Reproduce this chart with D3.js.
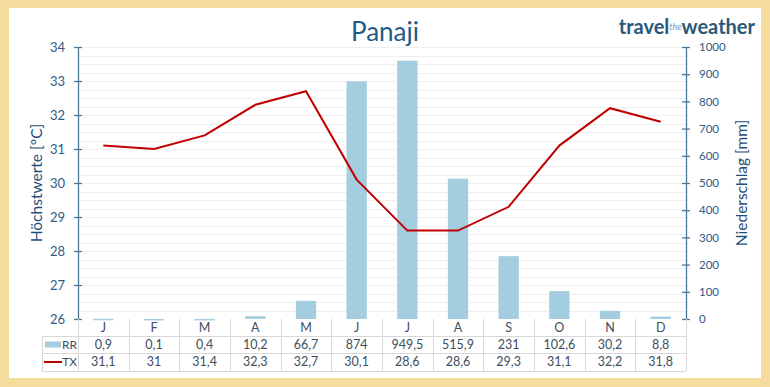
<!DOCTYPE html>
<html>
<head>
<meta charset="utf-8">
<script src="https://cdn.jsdelivr.net/npm/d3@7"></script>
<style>
  html, body { margin: 0; padding: 0; background: #fff; }
  svg { display: block; }
</style>
</head>
<body>
<div id="chart"></div>
<script>
// data
const months = ["J", "F", "M", "A", "M", "J", "J", "A", "S", "O", "N", "D"];
const rainfall = [0.9, 0.1, 0.4, 10.2, 66.7, 874, 949.5, 515.9, 231, 102.6, 30.2, 8.8];
const maxTemp = [31.1, 31, 31.4, 32.3, 32.7, 30.1, 28.6, 28.6, 29.3, 31.1, 32.2, 31.8];
const tempTicks = [26, 27, 28, 29, 30, 31, 32, 33, 34];
const rainTicks = [0, 100, 200, 300, 400, 500, 600, 700, 800, 900, 1000];

const W = 770, H = 387;
const plotL = 78, plotR = 686, plotT = 47, plotB = 319;
const rowH = [17, 17, 18];
const fmt = v => String(v).replace(".", ",");

const axisCol = "#4d7796";
const textCol = "#2e5b86";
const tableCol = "#3e4e5e";
const barCol = "#a5cde0";
const lineCol = "#c00000";

const svg = d3.select("#chart").append("svg")
    .attr("width", W)
    .attr("height", H)
    .style("font-family", "Lato, 'Open Sans', sans-serif");

// beige frame
svg.append("rect").attr("width", W).attr("height", H).attr("fill", "#f4dc9c");
svg.append("rect")
    .attr("x", 9).attr("y", 8)
    .attr("width", W - 18).attr("height", H - 17)
    .attr("fill", "#fff");

// scales
const idx = months.map((m, i) => i);
const x = d3.scaleBand().domain(idx).range([plotL, plotR]).padding(0);
const yT = d3.scaleLinear().domain([26, 34]).range([plotB, plotT]);
const yR = d3.scaleLinear().domain([0, 1000]).range([plotB, plotT]);

// faint gridlines every 0.25 °C
const grid = d3.range(26.25, 34.01, 0.25);
svg.append("g").selectAll("line")
    .data(grid)
    .join("line")
    .attr("x1", plotL).attr("x2", plotR)
    .attr("y1", d => Math.round(yT(d)) + 0.5)
    .attr("y2", d => Math.round(yT(d)) + 0.5)
    .attr("stroke", "#efefef")
    .attr("stroke-width", 1);

// bars
const bw = x.bandwidth() * 0.4;
svg.append("g").selectAll("rect")
    .data(rainfall)
    .join("rect")
    .attr("x", (d, i) => x(i) + (x.bandwidth() - bw) / 2)
    .attr("width", bw)
    .attr("y", d => yR(d))
    .attr("height", d => Math.max(1.5, plotB - yR(d)))
    .attr("fill", barCol);

// temperature line
const line = d3.line()
    .x((d, i) => x(i) + x.bandwidth() / 2)
    .y(d => yT(d));
svg.append("path")
    .datum(maxTemp)
    .attr("d", line)
    .attr("fill", "none")
    .attr("stroke", lineCol)
    .attr("stroke-width", 2)
    .attr("stroke-linejoin", "miter");

// axes
const leftAxis = svg.append("g").attr("transform", `translate(${plotL},0)`)
    .call(d3.axisLeft(yT).tickValues(tempTicks).tickSize(4).tickSizeOuter(0).tickPadding(9));
leftAxis.selectAll(".tick line").attr("x2", 4).attr("x1", -4);
const rightAxis = svg.append("g").attr("transform", `translate(${plotR},0)`)
    .call(d3.axisRight(yR).tickValues(rainTicks).tickFormat(d3.format("d"))
        .tickSize(4).tickSizeOuter(0).tickPadding(9));
rightAxis.selectAll(".tick line").attr("x1", -4).attr("x2", 4);

[leftAxis, rightAxis].forEach(a => {
    a.select(".domain").attr("stroke", axisCol).attr("stroke-width", 1.3);
    a.selectAll(".tick line").attr("stroke", axisCol).attr("stroke-width", 1.3);
    a.selectAll(".tick text").attr("fill", textCol)
        .style("font-family", "Lato, 'Open Sans', sans-serif");
});
leftAxis.selectAll(".tick text").style("font-size", "13px");
rightAxis.selectAll(".tick text").style("font-size", "11.5px");

// axis titles
svg.append("text")
    .attr("transform", `translate(42,${(plotT + plotB) / 2}) rotate(-90)`)
    .attr("text-anchor", "middle")
    .attr("fill", "#1f4e79")
    .style("font-size", "15.5px")
    .text("Höchstwerte [°C]");
svg.append("text")
    .attr("transform", `translate(747,${(plotT + plotB) / 2}) rotate(-90)`)
    .attr("text-anchor", "middle")
    .attr("fill", "#1f4e79")
    .style("font-size", "15.5px")
    .text("Niederschlag [mm]");

// title
svg.append("text")
    .attr("x", 385).attr("y", 41)
    .attr("text-anchor", "middle")
    .attr("fill", "#1f5a8a")
    .style("font-size", "26px")
    .text("Panaji");

// logo
const logo = svg.append("text")
    .attr("x", 755).attr("y", 34)
    .attr("text-anchor", "end")
    .attr("fill", "#2a5878")
    .style("font-weight", "bold")
    .style("font-size", "20px");
logo.append("tspan").text("travel");
logo.append("tspan").attr("dy", -4).style("font-size", "9px").style("font-weight", "normal")
    .style("font-style", "italic").attr("fill", "#7a9ab0").text("the");
logo.append("tspan").attr("dy", 4).text("weather");

// data table
const r0 = plotB, r1 = r0 + rowH[0], r2 = r1 + rowH[1], r3 = r2 + rowH[2];
const legLeft = 42;
const table = svg.append("g").attr("stroke", "#d8d8d8").attr("stroke-width", 1);
[r1, r2, r3].forEach(yy => {
    table.append("line").attr("x1", legLeft).attr("x2", plotR)
        .attr("y1", yy + 0.5).attr("y2", yy + 0.5);
});
const vlines = idx.map(i => x(i)).concat([plotR]);
table.selectAll(".v").data(vlines).join("line")
    .attr("x1", d => Math.round(d) + 0.5).attr("x2", d => Math.round(d) + 0.5)
    .attr("y1", r0).attr("y2", r3);
table.append("line").attr("x1", legLeft + 0.5).attr("x2", legLeft + 0.5)
    .attr("y1", r1).attr("y2", r3);

const cx = i => x(i) + x.bandwidth() / 2;
const rows = [
    { y: (r0 + r1) / 2, vals: months },
    { y: (r1 + r2) / 2, vals: rainfall.map(fmt) },
    { y: (r2 + r3) / 2, vals: maxTemp.map(fmt) }
];
rows.forEach(r => {
    svg.append("g").selectAll("text").data(r.vals).join("text")
        .attr("x", (d, i) => cx(i))
        .attr("y", r.y)
        .attr("dy", "0.35em")
        .attr("text-anchor", "middle")
        .attr("fill", tableCol)
        .style("font-size", "12.5px")
        .text(d => d);
});

// legend cells
svg.append("rect").attr("x", 45).attr("y", (r1 + r2) / 2 - 3)
    .attr("width", 16).attr("height", 6).attr("fill", barCol);
svg.append("line").attr("x1", 44).attr("x2", 62)
    .attr("y1", (r2 + r3) / 2).attr("y2", (r2 + r3) / 2)
    .attr("stroke", lineCol).attr("stroke-width", 2);
[["RR", (r1 + r2) / 2], ["TX", (r2 + r3) / 2]].forEach(([t, yy]) => {
    svg.append("text").attr("x", 77).attr("y", yy).attr("dy", "0.35em")
        .attr("text-anchor", "end")
        .attr("fill", tableCol)
        .style("font-size", "12px")
        .text(t);
});
</script>
</body>
</html>
